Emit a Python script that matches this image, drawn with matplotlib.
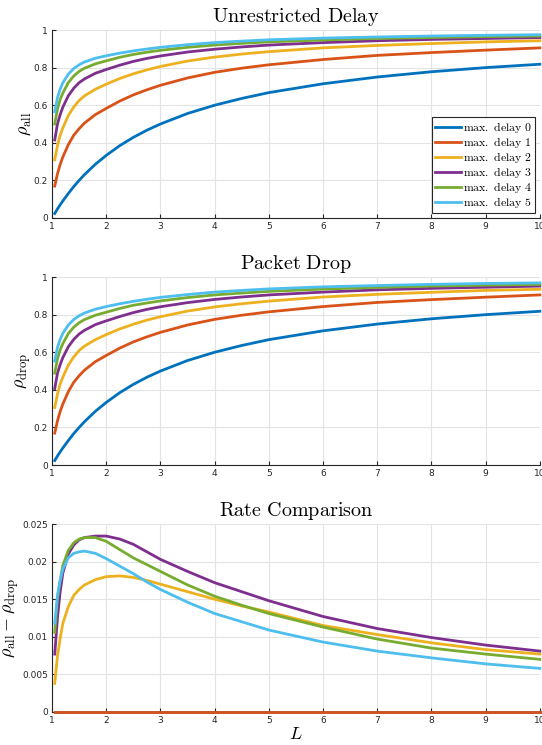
import matplotlib.pyplot as plt

plt.rcParams["mathtext.fontset"] = "cm"

# sample points along L
L = [1.05, 1.1, 1.15, 1.2, 1.3, 1.4, 1.5, 1.6, 1.8, 2, 2.25, 2.5, 2.75, 3,
     3.5, 4, 4.5, 5, 6, 7, 8, 9, 10]

# unrestricted delay rates
all_d0 = [0.024, 0.048, 0.07, 0.091, 0.13, 0.167, 0.2, 0.231, 0.286, 0.333, 0.385, 0.429,
          0.467, 0.5, 0.556, 0.6, 0.636, 0.667, 0.714, 0.75, 0.778, 0.8, 0.818]
all_d1 = [0.17, 0.235, 0.285, 0.325, 0.39, 0.44, 0.475, 0.505, 0.55, 0.583, 0.622, 0.655,
          0.682, 0.706, 0.745, 0.775, 0.797, 0.815, 0.843, 0.865, 0.88, 0.893, 0.905]
all_d2 = [0.31, 0.385, 0.44, 0.48, 0.545, 0.59, 0.625, 0.65, 0.685, 0.712, 0.742, 0.767,
          0.788, 0.806, 0.835, 0.856, 0.872, 0.885, 0.905, 0.918, 0.928, 0.937, 0.943]
all_d3 = [0.415, 0.5, 0.55, 0.59, 0.65, 0.69, 0.72, 0.74, 0.77, 0.79, 0.813, 0.833,
          0.849, 0.862, 0.883, 0.898, 0.91, 0.92, 0.933, 0.943, 0.95, 0.955, 0.96]
all_d4 = [0.5, 0.58, 0.63, 0.665, 0.72, 0.755, 0.78, 0.797, 0.82, 0.836, 0.855, 0.87,
          0.882, 0.892, 0.908, 0.92, 0.929, 0.937, 0.947, 0.955, 0.96, 0.965, 0.968]
all_d5 = [0.565, 0.64, 0.685, 0.72, 0.765, 0.795, 0.815, 0.83, 0.85, 0.863, 0.877, 0.889,
          0.899, 0.908, 0.922, 0.933, 0.941, 0.948, 0.957, 0.963, 0.968, 0.972, 0.975]

# packet drop rates
drop_d0 = all_d0
drop_d1 = all_d1
drop_d2 = [0.306, 0.378, 0.430, 0.468, 0.531, 0.575, 0.609, 0.633, 0.667, 0.694, 0.724, 0.749,
           0.771, 0.789, 0.819, 0.841, 0.858, 0.872, 0.894, 0.908, 0.919, 0.929, 0.935]
drop_d3 = [0.407, 0.488, 0.534, 0.572, 0.629, 0.668, 0.697, 0.717, 0.747, 0.767, 0.790, 0.811,
           0.828, 0.842, 0.864, 0.881, 0.894, 0.905, 0.920, 0.932, 0.940, 0.946, 0.952]
drop_d4 = [0.489, 0.565, 0.613, 0.646, 0.699, 0.733, 0.757, 0.774, 0.797, 0.813, 0.833, 0.850,
           0.862, 0.873, 0.891, 0.905, 0.915, 0.924, 0.936, 0.945, 0.952, 0.957, 0.961]
drop_d5 = [0.553, 0.625, 0.668, 0.701, 0.745, 0.774, 0.794, 0.809, 0.829, 0.843, 0.858, 0.871,
           0.882, 0.892, 0.907, 0.920, 0.929, 0.937, 0.948, 0.955, 0.961, 0.966, 0.969]

# rate differences
diff_d0 = [0.0] * len(L)
diff_d1 = [0.0] * len(L)
diff_d2 = [0.0038, 0.0074, 0.0098, 0.0118, 0.014, 0.0155, 0.0163, 0.0169, 0.0176, 0.018, 0.0181,
           0.0179, 0.0175, 0.0170, 0.016, 0.015, 0.0141, 0.0133, 0.0115, 0.0103, 0.0092, 0.0083, 0.0077]
diff_d3 = [0.0077, 0.0125, 0.016, 0.0185, 0.021, 0.0222, 0.0229, 0.0232, 0.0234, 0.0234, 0.0230,
           0.0223, 0.0213, 0.0203, 0.0187, 0.0172, 0.016, 0.0148, 0.0127, 0.0111, 0.0099, 0.0089, 0.0081]
diff_d4 = [0.0106, 0.015, 0.0175, 0.0195, 0.0215, 0.0225, 0.023, 0.0232, 0.0232, 0.0227, 0.0216,
           0.0205, 0.0196, 0.0187, 0.0169, 0.0154, 0.0142, 0.0131, 0.0113, 0.0097, 0.0085, 0.0077, 0.0070]
diff_d5 = [0.0118, 0.0155, 0.0175, 0.019, 0.0205, 0.0211, 0.0213, 0.0214, 0.0211, 0.0204, 0.0194,
           0.0184, 0.0173, 0.0163, 0.0146, 0.0131, 0.012, 0.0109, 0.0093, 0.0081, 0.0072, 0.0064, 0.0058]

labels = [r"$\mathrm{max.\ delay\ %d}$" % i for i in range(6)]
colors = ["#0072BD", "#D95319", "#EDB120", "#7E2F8E", "#77AC30", "#4DBEEE"]

panels = [
    ("Unrestricted Delay", r"$\rho_{\mathrm{all}}$",
     [all_d0, all_d1, all_d2, all_d3, all_d4, all_d5]),
    ("Packet Drop", r"$\rho_{\mathrm{drop}}$",
     [drop_d0, drop_d1, drop_d2, drop_d3, drop_d4, drop_d5]),
    ("Rate Comparison", r"$\rho_{\mathrm{all}} - \rho_{\mathrm{drop}}$",
     [diff_d0, diff_d1, diff_d2, diff_d3, diff_d4, diff_d5]),
]
bottoms = [0.7074, 0.3758, 0.0443]

fig = plt.figure(figsize=(5.42, 7.45), dpi=100)

for k, (title, ylab, series) in enumerate(panels):
    ax = fig.add_axes([0.096, bottoms[k], 0.900, 0.2523])
    for s, c, lab in zip(series, colors, labels):
        ax.plot(L, s, color=c, linewidth=2, label=lab, clip_on=False, zorder=3)
    ax.set_xlim(1, 10)
    ax.set_xticks(range(1, 11))
    if k < 2:
        ax.set_ylim(0, 1)
        ax.set_yticks([0, 0.2, 0.4, 0.6, 0.8, 1])
        ax.set_yticklabels(["0", "0.2", "0.4", "0.6", "0.8", "1"])
        ax.set_ylabel(ylab, fontsize=13, labelpad=0)
    else:
        ax.set_ylim(0, 0.025)
        ax.set_yticks([0, 0.005, 0.01, 0.015, 0.02, 0.025])
        ax.set_yticklabels(["0", "0.005", "0.01", "0.015", "0.02", "0.025"])
        ax.set_xlabel(r"$L$", fontsize=13, labelpad=0)
        ax.set_ylabel(ylab, fontsize=13, labelpad=1)
    ax.set_title(r"$\mathrm{%s}$" % title.replace(" ", r"\ "), fontsize=14.5, pad=6)
    ax.grid(True, color="#e3e3e3", linewidth=0.8)
    ax.set_axisbelow(True)
    for side in ["top", "right"]:
        ax.spines[side].set_visible(False)
    for side in ["left", "bottom"]:
        ax.spines[side].set_color("#262626")
        ax.spines[side].set_linewidth(0.8)
    ax.tick_params(direction="in", labelsize=6.5, colors="#262626", length=3, pad=3)
    if k == 0:
        leg = ax.legend(loc="lower right", fontsize=8.5, fancybox=False, framealpha=1,
                        edgecolor="#262626", handlelength=2.2, handletextpad=0.2,
                        labelspacing=0.0, borderpad=0.25, borderaxespad=0.4)
        leg.get_frame().set_linewidth(0.8)

plt.savefig("out.png", dpi=100)
